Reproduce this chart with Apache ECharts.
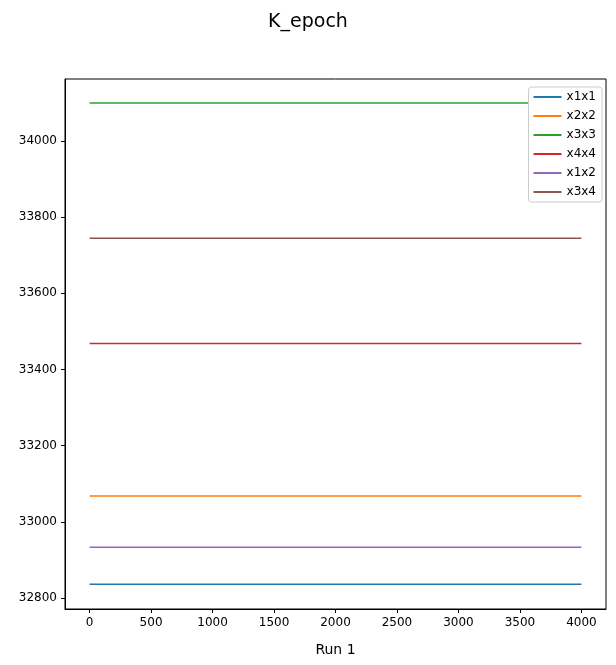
<!DOCTYPE html>
<html><head><meta charset="utf-8">
<script src="https://cdn.jsdelivr.net/npm/echarts@6/dist/echarts.min.js"></script>
<style>html,body{margin:0;padding:0;background:#fff}#c{width:616px;height:665px}</style>
</head><body><div id="c"></div>
<script>
const seriesNames = ['x1x1','x2x2','x3x3','x4x4','x1x2','x3x4'];
const seriesValues = [32836, 33068, 34100, 33468, 32933, 33745];
const colors = ['#1f77b4','#ff7f0e','#2ca02c','#d62728','#9467bd','#8c564b'];
const xRange = [0, 4000];
const xTicks = [0,500,1000,1500,2000,2500,3000,3500,4000];
const yTicks = [32800,33000,33200,33400,33600,33800,34000];

const chart = echarts.init(document.getElementById('c'));
const font = 'DejaVu Sans';
chart.setOption({
  animation:false,
  title:{text:'K_epoch',left:'center',top:8,textStyle:{fontFamily:font,fontSize:19,fontWeight:'normal',color:'#000'}},
  legend:{data:seriesNames,orient:'vertical',right:14,top:87,itemWidth:28,itemHeight:2,itemGap:7,
    icon:'rect',backgroundColor:'#fff',borderColor:'#ccc',borderWidth:1,borderRadius:3,padding:[4,6,4,5],
    textStyle:{fontFamily:font,fontSize:12,color:'#000'}},
  grid:{left:65,right:10,top:79,bottom:56,containLabel:false},
  xAxis:{type:'value',min:-200,max:4200,name:'Run 1',nameLocation:'middle',nameGap:34,
    nameTextStyle:{fontFamily:font,fontSize:14,color:'#000'},
    axisLine:{onZero:false,lineStyle:{color:'#000'}},splitLine:{show:false},
    axisTick:{customValues:xTicks,length:4,lineStyle:{color:'#000'}},
    axisLabel:{customValues:xTicks,formatter:v=>String(v),fontFamily:font,fontSize:12,color:'#000'}},
  yAxis:{type:'value',min:32771,max:34163,
    axisLine:{show:true,onZero:false,lineStyle:{color:'#000'}},splitLine:{show:false},
    axisTick:{show:true,customValues:yTicks,length:4,lineStyle:{color:'#000'}},
    axisLabel:{customValues:yTicks,formatter:v=>String(v),fontFamily:font,fontSize:12,color:'#000'}},
  series: seriesNames.map((n,i)=>({name:n,type:'line',symbol:'none',
    color:colors[i],lineStyle:{width:1.5,color:colors[i]},
    data:xRange.map(x=>[x,seriesValues[i]])}))
});
chart.setOption({graphic:[{type:'rect',shape:{x:65,y:79,width:541,height:530},style:{fill:'none',stroke:'#000',lineWidth:1},silent:true,z:-1}]});
</script></body></html>
